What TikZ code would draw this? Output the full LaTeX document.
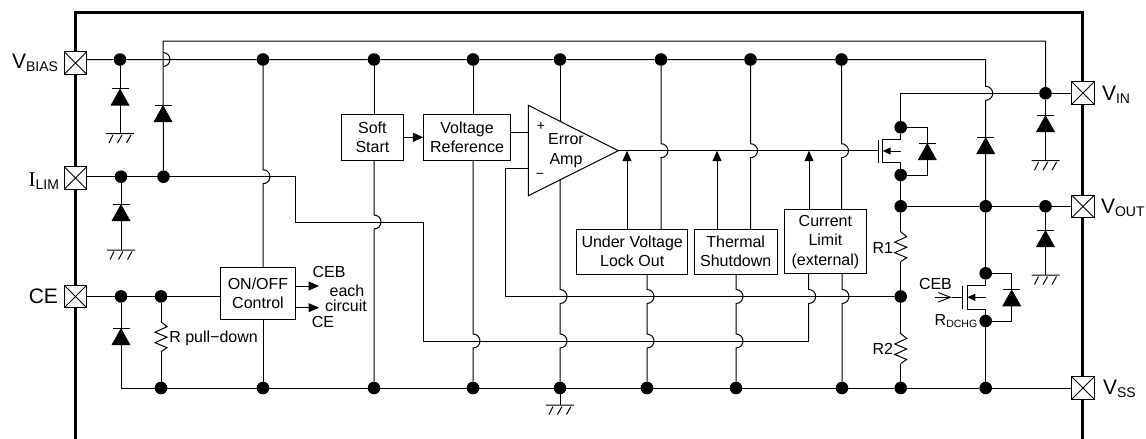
\documentclass[tikz,border=0pt]{standalone}
\usepackage{fontspec}
\setmainfont{Liberation Sans}
\newfontfamily\serifI{Liberation Serif}
\usetikzlibrary{positioning}
\usetikzlibrary{arrows.meta}
\newcommand{\hop}[2]{-- (#1,#2-7) arc[start angle=-90,end angle=90,radius=7]}
\newcommand{\pinlabel}[2]{{\fontsize{21}{24}\selectfont #1}\raisebox{-3.3pt}{\fontsize{14}{16}\selectfont #2}}
\tikzset{
    every node/.style = {font=\fontsize{16}{19.5}\selectfont,inner sep=0pt,outer sep=0pt},
    framen/.style = {-,line width=3pt,black},
    wire/.style = {-,line width=1pt,black},
    wirea/.style = {wire,-{Triangle[length=10.5pt,width=9pt]}},
    blockn/.style = {rectangle,draw=black,line width=1pt,fill=white,align=center},
    dotn/.style = {circle,fill=black,minimum size=12.6pt},
    padn/.style = {rectangle,draw=black,line width=1pt,fill=white,minimum size=22.5pt,
        path picture={\draw[line width=0.8pt] (path picture bounding box.north west) -- (path picture bounding box.south east)
            (path picture bounding box.north east) -- (path picture bounding box.south west);}},
    textn/.style = {align=center},
    diodeup/.pic = {\fill[black] (-9.5,17) -- (9.5,17) -- (0,0) -- cycle; \draw[line width=1pt] (-8.5,0) -- (8.5,0);},
    groundn/.pic = {\draw[line width=1pt] (-14,0) -- (14,0)
        (-7,1.5) -- (-11,9.5) (2,1.5) -- (-2.5,9.5) (11,1.5) -- (6.5,9.5);},
    resistorn/.pic = {\draw[line width=1pt] (0,0) -- (6,5) -- (-6,10.5) -- (6,15.5) -- (-6,21) -- (6,26) -- (0,30);}
}
\begin{document}
\begin{tikzpicture}[x=1pt,y=-1pt]
\path[use as bounding box] (0,0) rectangle (1146,439);
% package outline
\coordinate (fa) at (75,439);
\coordinate (fb) at (75,12.5);
\coordinate (fc) at (1082,12.5);
\coordinate (fd) at (1082,439);
\draw[framen] (fa) -- (fb) -- (fc) -- (fd);
% pads
\node[padn] at (75.5,63) (pbias) {};
\node[padn] at (75.5,178) (pilim) {};
\node[padn] at (75.5,296.5) (pce) {};
\node[padn] at (1083,93) (pin) {};
\node[padn] at (1083,206.5) (pout) {};
\node[padn] at (1083,388) (pss) {};
\node[anchor=base east] at (58,68.5) (lbias) {\pinlabel{V}{BIAS}};
\node[anchor=base east] at (59,186.5) (llim) {\pinlabel{{\serifI I}}{LIM}};
\node[anchor=base east] at (58,303.5) (lce) {\pinlabel{CE}{}};
\node[anchor=base west] at (1102,100) (lin) {\pinlabel{V}{IN}};
\node[anchor=base west] at (1101,213) (lout) {\pinlabel{V}{OUT}};
\node[anchor=base west] at (1103,394) (lss) {\pinlabel{V}{SS}};
% blocks
\node[blockn,minimum width=75.5pt,minimum height=52.4pt] at (258,293.5) (onoff) {ON/OFF\\Control};
\node[blockn,minimum width=61.3pt,minimum height=45.7pt] at (372.4,137.2) (soft) {Soft\\Start};
\node[blockn,minimum width=87.4pt,minimum height=45.7pt] at (467,137.2) (vref) {Voltage\\Reference};
\node[blockn,minimum width=111pt,minimum height=45pt] at (632.2,251.5) (uvlo) {Under Voltage\\Lock Out};
\node[blockn,minimum width=83.3pt,minimum height=45pt] at (735.7,251.5) (thsd) {Thermal\\Shutdown};
\node[blockn,minimum width=82.7pt,minimum height=64.3pt] at (825.4,241.8) (clim) {Current\\Limit\\(external)};
% junction dots
\node[dotn] at (120,59.5) (ta) {};
\node[dotn] at (263,59.5) (tb) {};
\node[dotn] at (374,59.5) (tc) {};
\node[dotn] at (473,59.5) (td) {};
\node[dotn] at (560,59.5) (te) {};
\node[dotn] at (661,59.5) (tf) {};
\node[dotn] at (750.5,59.5) (tg) {};
\node[dotn] at (841.5,59.5) (th) {};
\node[dotn] at (121,176.7) (ila) {};
\node[dotn] at (163.5,176.7) (ilb) {};
\node[dotn] at (121,296.4) (cea) {};
\node[dotn] at (161,296.4) (ceb) {};
\node[dotn] at (161,388) (ba) {};
\node[dotn] at (263,388) (bb) {};
\node[dotn] at (374,388) (bc) {};
\node[dotn] at (473,388) (bd) {};
\node[dotn] at (560,388) (be) {};
\node[dotn] at (647,388) (bf) {};
\node[dotn] at (736,388) (bg) {};
\node[dotn] at (842,388) (bh) {};
\node[dotn] at (900.7,388) (bi) {};
\node[dotn] at (985.7,388) (bj) {};
\node[dotn] at (1045.5,93.3) (ina) {};
\node[dotn] at (900.7,127.3) (pma) {};
\node[dotn] at (900.7,175) (pmb) {};
\node[dotn] at (900.7,206.3) (oua) {};
\node[dotn] at (985.7,206.3) (oub) {};
\node[dotn] at (1045.5,206.3) (ouc) {};
\node[dotn] at (900.7,296.5) (fba) {};
\node[dotn] at (985.7,273.3) (nma) {};
\node[dotn] at (985.7,321) (nmb) {};
% free ends and corners
\coordinate (vt) at (163,41);
\coordinate (vu) at (1045.5,41);
\coordinate (ve) at (985.7,59.5);
\coordinate (vk) at (900.7,93.3);
\coordinate (ga) at (120,133.5);
\coordinate (gb) at (121,250);
\coordinate (gc) at (560,405);
\coordinate (gd) at (1045.5,160.7);
\coordinate (ge) at (1045.5,275);
\coordinate (cc) at (121,388);
\coordinate (ilc) at (295,176.7);
\coordinate (ild) at (295,222);
\coordinate (ile) at (423.7,222);
\coordinate (ilf) at (423.7,341);
\coordinate (ilg) at (808.7,341);
\coordinate (ampa) at (528.3,105.3);
\coordinate (ampb) at (528.3,195.7);
\coordinate (ampc) at (618.3,150.7);
\coordinate (ampm) at (528.3,132.3);
\coordinate (ampn) at (528.3,168.7);
\coordinate (fbc) at (505.7,168.7);
\coordinate (fbd) at (505.7,296.5);
\coordinate (oua1) at (627,150.7);
\coordinate (oua2) at (717,150.7);
\coordinate (oua3) at (809,150.7);
\coordinate (gatp) at (878,150.7);
\coordinate (cebo) at (319,286);
\coordinate (ceo) at (319,307.7);
% rails
\draw[wire] (pbias.east |- ta) -- (ta) -- (tb) -- (tc) -- (td) -- (te) -- (tf) -- (tg) -- (th) -- (ve) \hop{985.7}{93.3} -- (oub);
\draw[wire] (ilb) \hop{163}{59.5} -- (vt) -- (vu) -- (ina);
\draw[wire] (pin.west |- ina) -- (ina) -- (vk) -- (pma);
\draw[wire] (pilim.east |- ila) -- (ila) -- (ilb) -- (ilc) -- (ild) -- (ile) -- (ilf) -- (ilg);
\draw[wire] (pce.east |- cea) -- (cea) -- (ceb) -- (onoff.west |- ceb);
\draw[wire] (cea) -- (cc) -- (ba) -- (bb) -- (bc) -- (bd) -- (be) -- (bf) -- (bg) -- (bh) -- (bi) -- (bj) -- (pss.west |- bj);
\draw[wire] (oua) -- (oub) -- (ouc) -- (pout.west |- ouc);
% clamps on the pins
\draw[wire] (ta) -- (ga);
\draw[wire] (ila) -- (gb);
\draw[wire] (ina) -- (gd);
\draw[wire] (ouc) -- (ge);
\path (ga) pic {groundn};
\path (gb) pic {groundn};
\path (gc) pic {groundn};
\path (gd) pic {groundn};
\path (ge) pic {groundn};
\path (120,88.5) pic {diodeup};
\path (163,105) pic {diodeup};
\path (121,204) pic {diodeup};
\path (121,328) pic {diodeup};
\path (1045.5,115) pic {diodeup};
\path (1045.5,230) pic {diodeup};
\path (985.7,137) pic {diodeup};
% enable
\draw[wire] (tb) \hop{263}{176.7} -- (tb |- onoff.north);
\draw[wire] (bb |- onoff.south) -- (bb);
\draw[wirea] (onoff.east |- cebo) -- (cebo);
\draw[wirea] (onoff.east |- ceo) -- (ceo);
\node[anchor=center] at (329,272) (tceb) {CEB};
\node[anchor=center] at (347,290.7) (teach) {each};
\node[anchor=center] at (346,306) (tcirc) {circuit};
\node[anchor=center] at (323,321.7) (tce) {CE};
\coordinate (rpa) at (161,321.7);
\coordinate (rpb) at (161,351.7);
\draw[wire] (ceb) -- (rpa);
\draw[wire] (rpb) -- (ba);
\path (rpa) pic {resistorn};
\node[anchor=west] at (169.3,338.7) (trp) {R pull\raisebox{0.5pt}{−}down};
% soft start, reference
\draw[wire] (tc) -- (tc |- soft.north);
\draw[wire] (tc |- soft.south) \hop{374}{222} -- (bc);
\coordinate (sfa) at (soft.east |- 0,137.3);
\draw[wirea] (sfa) -- (vref.west |- sfa);
\draw[wire] (td) -- (td |- vref.north);
\draw[wire] (td |- vref.south) \hop{473}{341} -- (bd);
\draw[wire] (vref.east |- ampm) -- (ampm);
% error amp
\draw[wire] (te) -- (560,121);
\draw[wire] (560,179.8) \hop{560}{296.5} \hop{560}{341} -- (be);
\draw[wire] (be) -- (gc);
\draw[wire] (ampn) -- (fbc) -- (fbd) -- (fba);
\draw[blockn] (ampa) -- (ampb) -- (ampc) -- cycle;
\node at (541,126.7) (tplus) {\fontsize{14}{15}\selectfont +};
\node at (540,175.7) (tminus) {\fontsize{14}{15}\selectfont −};
\node[textn] at (566,150.5) (tamp) {Error\\Amp};
\draw[wire] (ampc) -- (gatp);
% monitors
\draw[wirea] (oua1 |- uvlo.north) -- (oua1);
\draw[wirea] (oua2 |- thsd.north) -- (oua2);
\draw[wirea] (oua3 |- clim.north) -- (oua3);
\draw[wire] (tf) \hop{661}{150.7} -- (tf |- uvlo.north);
\draw[wire] (tg) \hop{750.5}{150.7} -- (tg |- thsd.north);
\draw[wire] (th) \hop{841.5}{150.7} -- (th |- clim.north);
\draw[wire] (bf |- uvlo.south) \hop{647}{296.5} \hop{647}{341} -- (bf);
\draw[wire] (bg |- thsd.south) \hop{736}{296.5} \hop{736}{341} -- (bg);
\draw[wire] (ilg |- clim.south) \hop{808.7}{296.5} -- (ilg);
\draw[wire] (bh |- clim.south) \hop{842}{296.5} -- (bh);
% pmos
\coordinate (pgt) at (878,140);
\coordinate (pgb) at (878,162.7);
\coordinate (pct) at (882.7,139.3);
\coordinate (pcb) at (882.7,162.7);
\coordinate (pdt) at (900.7,139.3);
\coordinate (pdb) at (900.7,162.7);
\coordinate (paa) at (900.7,151);
\coordinate (pab) at (882.7,151);
\coordinate (pra) at (927.3,127.3);
\coordinate (prb) at (927.3,175);
\draw[wire] (pgt) -- (pgb);
\draw[wire] (pma) -- (pdt) -- (pct) -- (pcb) -- (pdb) -- (pmb);
\draw[wire,-{Triangle[length=8pt,width=7pt]}] (paa) -- (pab);
\draw[wire] (pma) -- (pra) -- (prb) -- (pmb);
\path (927.3,143) pic {diodeup};
\draw[wire] (pmb) -- (oua);
% divider
\coordinate (raa) at (900.7,231.7);
\coordinate (rab) at (900.7,261.7);
\coordinate (rba) at (900.7,333.5);
\coordinate (rbb) at (900.7,363.5);
\draw[wire] (oua) -- (raa);
\draw[wire] (rab) -- (fba);
\draw[wire] (fba) -- (rba);
\draw[wire] (rbb) -- (bi);
\path (raa) pic {resistorn};
\path (rba) pic {resistorn};
\node[anchor=east] at (893,248.3) (tra) {R1};
\node[anchor=east] at (893,349.3) (trb) {R2};
% discharge nmos
\coordinate (ngt) at (962.7,285.7);
\coordinate (ngb) at (962.7,309);
\coordinate (nct) at (967.3,285.7);
\coordinate (ncb) at (967.3,309);
\coordinate (ndt) at (985.7,285.7);
\coordinate (ndb) at (985.7,309);
\coordinate (naa) at (985.7,297.3);
\coordinate (nab) at (967.3,297.3);
\coordinate (nra) at (1011.7,273.3);
\coordinate (nrb) at (1011.7,321);
\coordinate (ngi) at (935,297.3);
\coordinate (ngm) at (951.7,297.3);
\draw[wire] (oub) -- (nma);
\draw[wire] (ngt) -- (ngb);
\draw[wire] (nma) -- (ndt) -- (nct) -- (ncb) -- (ndb) -- (nmb);
\draw[wire,-{Triangle[length=8pt,width=7pt]}] (naa) -- (nab);
\draw[wire] (nma) -- (nra) -- (nrb) -- (nmb);
\path (1011.7,289.3) pic {diodeup};
\draw[wire,-{Straight Barb[length=12pt,width=9.5pt]}] (ngi) -- (ngm);
\draw[wire] (ngm) -- (ngb |- ngm);
\draw[wire] (nmb) -- (bj);
\node[anchor=base west] at (919,289.5) (tcebn) {CEB};
\node[anchor=base west] at (934.7,325.5) (trd) {R\raisebox{-2pt}{\fontsize{10.5}{12}\selectfont DCHG}};
\end{tikzpicture}
\end{document}
